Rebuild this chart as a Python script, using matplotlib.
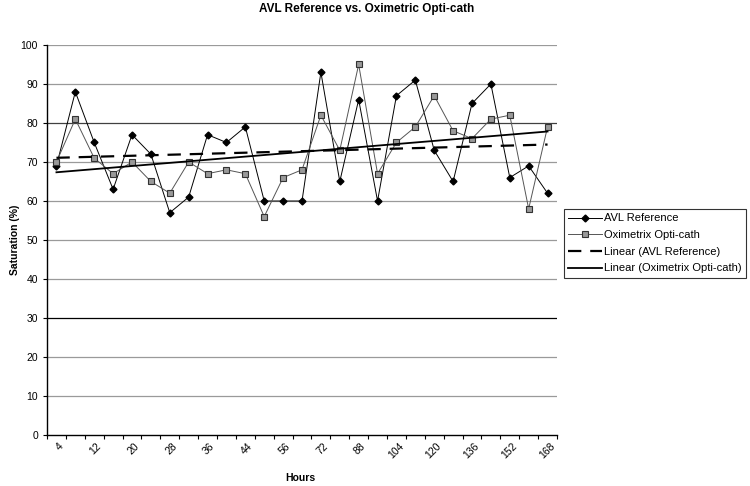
import matplotlib
matplotlib.use('Agg')
import matplotlib.pyplot as plt
import numpy as np

plt.rcParams['font.family'] = ['Liberation Sans', 'DejaVu Sans']

hours = [4, 8, 12, 16, 20, 24, 28, 32, 36, 40, 44, 48, 56, 64, 72, 80, 88, 96,
         104, 112, 120, 128, 136, 144, 152, 160, 168]
avl = [69, 88, 75, 63, 77, 72, 57, 61, 77, 75, 79, 60, 60, 60, 93, 65, 86, 60,
       87, 91, 73, 65, 85, 90, 66, 69, 62]
oxi = [70, 81, 71, 67, 70, 65, 62, 70, 67, 68, 67, 56, 66, 68, 82, 73, 95, 67,
       75, 79, 87, 78, 76, 81, 82, 58, 79]

n = len(hours)
x = np.arange(1, n + 1)

fig = plt.figure(figsize=(7.5, 4.86), dpi=100)
ax = fig.add_axes([47 / 750, 1 - 435 / 486, 510 / 750, 390 / 486])

# gridlines
for v in range(10, 101, 10):
    c = '#000000' if v in (30,) else ('#404040' if v == 80 else '#9a9a9a')
    ax.axhline(v, color=c, lw=0.9, zorder=0)

ax.plot(x, avl, color='black', lw=0.7, marker='D', ms=3.5, mfc='black', mec='black',
        label='AVL Reference', zorder=3)
ax.plot(x, oxi, color='#555555', lw=0.7, marker='s', ms=4.2, mfc='#999999', mec='#333333',
        mew=0.8, label='Oximetrix Opti-cath', zorder=3)

# linear trendlines
p1 = np.polyfit(x, avl, 1)
p2 = np.polyfit(x, oxi, 1)
ax.plot(x, np.polyval(p1, x), color='black', lw=1.6, ls=(0, (6, 4)),
        label='Linear (AVL Reference)', zorder=4)
ax.plot(x, np.polyval(p2, x), color='black', lw=1.3,
        label='Linear (Oximetrix Opti-cath)', zorder=4)

ax.set_xlim(0.5, n + 0.5)
ax.set_ylim(0, 100)
ax.set_yticks(range(0, 101, 10))
ax.set_xticks(np.arange(0.5, n + 1, 1), minor=False)
ax.set_xticklabels([])
ax.tick_params(axis='x', which='major', length=3, direction='out', width=0.8)
ax.tick_params(axis='y', length=3, direction='out', width=0.8, labelsize=7.5, colors='black')
for xi, h in zip(x[::2], hours[::2]):
    ax.text(xi + 0.1, -1.5, str(h), rotation=45, ha='right', va='top',
            rotation_mode='anchor', fontsize=7.5, transform=ax.transData)

for s in ['top', 'right']:
    ax.spines[s].set_visible(False)
ax.spines['left'].set_linewidth(1.0)
ax.spines['bottom'].set_linewidth(1.0)

fig.text(15 / 750, 1 - 240 / 486, 'Saturation (%)', fontsize=7.5, fontweight='bold',
         rotation=90, ha='center', va='center')
fig.text(300 / 750, 1 - 478 / 486, 'Hours', fontsize=7.5, fontweight='bold',
         ha='center', va='center')
fig.text(367 / 750, 1 - 9 / 486, 'AVL Reference vs. Oximetric Opti-cath',
         fontsize=8.5, fontweight='bold', ha='center', va='center')

leg = fig.legend(loc='upper left', bbox_to_anchor=(564 / 750, 1 - 209 / 486),
                 fontsize=8, frameon=True, fancybox=False, handlelength=3,
                 borderpad=0.4, labelspacing=0.6, handletextpad=0.2,
                 borderaxespad=0)
leg.get_frame().set_edgecolor('black')
leg.get_frame().set_linewidth(0.8)

fig.savefig('out.png', dpi=100)
